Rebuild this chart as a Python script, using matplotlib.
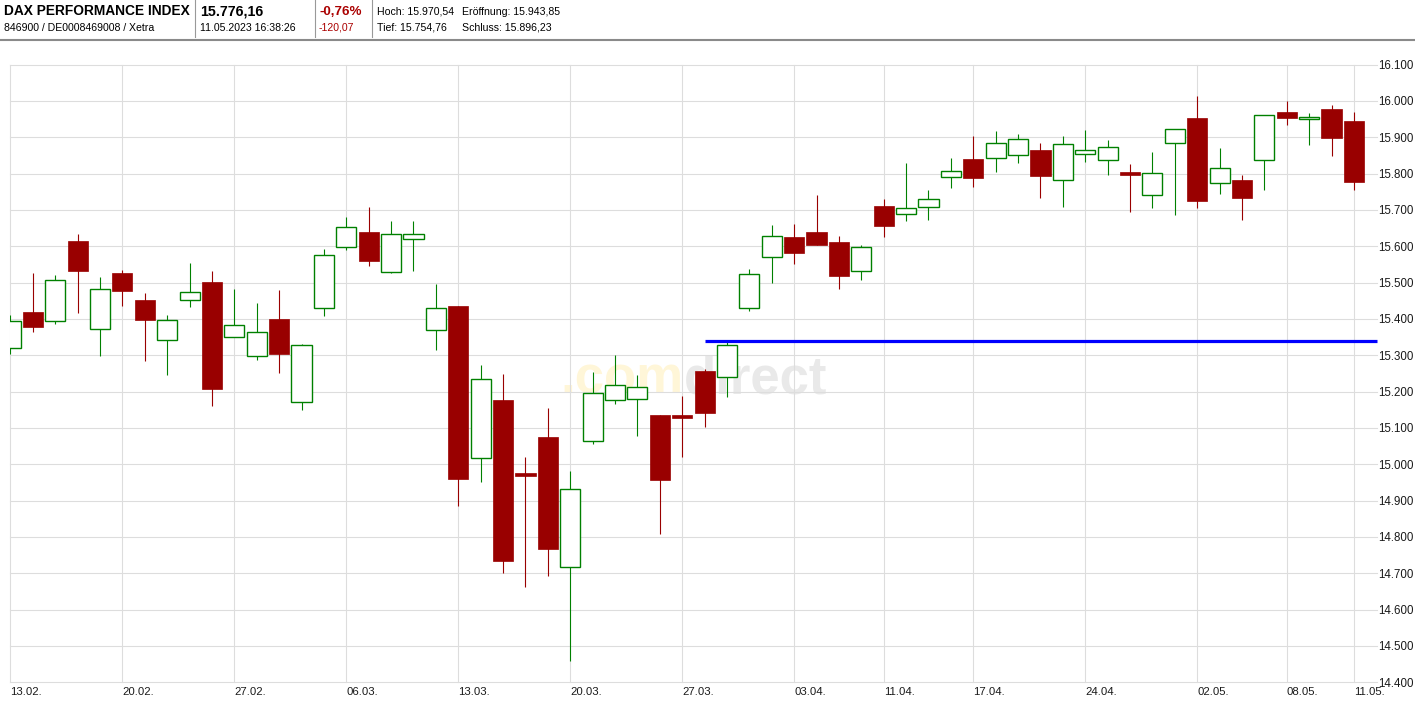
import matplotlib
matplotlib.use("Agg")
import matplotlib.pyplot as plt
from matplotlib.lines import Line2D

# DAX daily candles, 13.02.2023 - 11.05.2023
dates = ['13.02', '14.02', '15.02', '16.02', '17.02',
         '20.02', '21.02', '22.02', '23.02', '24.02',
         '27.02', '28.02', '01.03', '02.03', '03.03',
         '06.03', '07.03', '08.03', '09.03', '10.03',
         '13.03', '14.03', '15.03', '16.03', '17.03',
         '20.03', '21.03', '22.03', '23.03', '24.03',
         '27.03', '28.03', '29.03', '30.03', '31.03',
         '03.04', '04.04', '05.04', '06.04',
         '11.04', '12.04', '13.04', '14.04',
         '17.04', '18.04', '19.04', '20.04', '21.04',
         '24.04', '25.04', '26.04', '27.04', '28.04',
         '02.05', '03.05', '04.05', '05.05',
         '08.05', '09.05', '10.05', '11.05']
opens = [15321, 15418, 15393, 15614, 15371,
         15526, 15451, 15343, 15453, 15501,
         15351, 15299, 15399, 15170, 15431,
         15598, 15640, 15529, 15620, 15369,
         15436, 15016, 15177, 14976, 15075,
         14716, 15063, 15176, 15179, 15135,
         15136, 15257, 15241, 15429, 15569,
         15626, 15640, 15612, 15531,
         15712, 15688, 15707, 15790,
         15841, 15843, 15851, 15866, 15783,
         15854, 15837, 15804, 15740, 15884,
         15952, 15773, 15782, 15837,
         15969, 15950, 15977, 15943.85]
highs = [15410, 15526, 15520, 15633, 15515,
         15534, 15471, 15410, 15553, 15531,
         15482, 15443, 15479, 15330, 15592,
         15679, 15709, 15668, 15668, 15497,
         15436, 15272, 15247, 15020, 15155,
         14981, 15254, 15301, 15246, 15135,
         15188, 15263, 15336, 15538, 15659,
         15662, 15740, 15629, 15604,
         15729, 15830, 15755, 15844,
         15904, 15918, 15910, 15885, 15902,
         15921, 15893, 15827, 15860, 15923,
         16014, 15871, 15795, 15962,
         16000, 15966, 15988, 15970.54]
lows = [15304, 15364, 15386, 15417, 15298,
        15435, 15284, 15246, 15433, 15161,
        15349, 15287, 15251, 15150, 15408,
        15589, 15545, 15525, 15533, 15315,
        14885, 14952, 14701, 14663, 14693,
        14459, 15056, 15167, 15079, 14809,
        15021, 15103, 15184, 15422, 15500,
        15552, 15602, 15483, 15508,
        15624, 15668, 15673, 15759,
        15764, 15803, 15828, 15734, 15707,
        15831, 15795, 15693, 15706, 15686,
        15706, 15744, 15673, 15756,
        15933, 15878, 15847, 15754.76]
closes = [15395, 15378, 15506, 15532, 15481,
          15477, 15397, 15398, 15475, 15207,
          15382, 15365, 15304, 15327, 15577,
          15653, 15558, 15634, 15634, 15430,
          14959, 15234, 14734, 14967, 14768,
          14933, 15195, 15217, 15212, 14957,
          15128, 15142, 15329, 15523, 15628,
          15580, 15602, 15519, 15598,
          15655, 15705, 15730, 15807,
          15789, 15884, 15895, 15794, 15881,
          15865, 15873, 15795, 15801, 15923,
          15725, 15815, 15733, 15962,
          15953, 15956, 15897, 15776.16]

week_labels = ['13.02', '20.02', '27.02', '06.03', '13.03', '20.03', '27.03',
               '03.04', '11.04', '17.04', '24.04', '02.05', '08.05', '11.05']
y_ticks = list(range(14400, 16101, 100))

line_level = 15340      # blue horizontal line
line_start = '28.03'

UP = '#008000'
DOWN = '#990000'
GRID = '#dddddd'
FONT = ['Liberation Sans', 'DejaVu Sans']

W, H = 1415, 701
fig = plt.figure(figsize=(W / 100, H / 100), dpi=100)
fig.patch.set_facecolor('white')


def fx(x):
    return x / W


def fy(y):
    return 1 - y / H


ax = fig.add_axes([fx(10), fy(682.3), (1377 - 10) / W, (682.3 - 64.5) / H])
ax.set_facecolor('none')

# candles
x = list(range(len(dates)))
for i in x:
    o, h, l, c = opens[i], highs[i], lows[i], closes[i]
    col = UP if c >= o else DOWN
    ax.vlines(i, l, h, color=col, lw=0.8, zorder=2)
    if c >= o:
        ax.bar(i, c - o, bottom=o, width=0.9, facecolor='white',
               edgecolor=UP, linewidth=1.0, zorder=3)
    else:
        ax.bar(i, o - c, bottom=c, width=0.9, facecolor=DOWN,
               edgecolor=DOWN, linewidth=0.5, zorder=3)

x_right = 61.03
ax.hlines(line_level, dates.index(line_start), x_right, color='#0000ff',
          lw=2.3, zorder=4, clip_on=False)

ax.set_xlim(-0.02, x_right)
ax.set_ylim(14400, 16100)

# grid / ticks
xt = [dates.index(d) for d in week_labels]
ax.set_xticks(xt)
ax.set_xticklabels([d + '.' for d in week_labels], ha='left',
                   fontsize=8.2, family=FONT, color='#1a1a1a')
ax.set_yticks(y_ticks)
ax.set_yticklabels([f'{v:,}'.replace(',', '.') for v in y_ticks],
                   fontsize=8.3, family=FONT, color='#1a1a1a')
ax.yaxis.tick_right()
ax.tick_params(axis='y', length=0, pad=1)
ax.tick_params(axis='x', length=0, pad=3.5)
ax.grid(True, color=GRID, lw=0.8)
ax.set_axisbelow(True)
for gl in ax.get_xgridlines() + ax.get_ygridlines():
    gl.set_clip_on(False)
for s in ax.spines.values():
    s.set_visible(False)

# watermark
wm_x, wm_y = 684, 393
fig.text(fx(wm_x), fy(wm_y), '.com', ha='right', va='baseline', fontsize=38,
         fontweight='bold', family=FONT, color='#fff6d8', zorder=-1)
fig.text(fx(wm_x), fy(wm_y), 'direct', ha='left', va='baseline', fontsize=38,
         fontweight='bold', family=FONT, color='#e9e9e9', zorder=-1)

# header
def htext(xp, yp, s, size, bold=False, color='black'):
    fig.text(fx(xp), fy(yp), s, ha='left', va='baseline', fontsize=size,
             fontweight='bold' if bold else 'normal', family=FONT, color=color)


htext(4, 15, 'DAX PERFORMANCE INDEX', 9.9, bold=True)
htext(4, 31, '846900 / DE0008469008 / Xetra', 7.6)
htext(200, 15, '15.776,16', 10.3, bold=True)
htext(200, 31, '11.05.2023 16:38:26', 7.6)
htext(319, 15, '-0,76%', 9.6, bold=True, color='#aa0000')
htext(319, 31, '-120,07', 7.6, color='#aa0000')
htext(377, 15, 'Hoch: 15.970,54', 7.6)
htext(462, 15, 'Eröffnung: 15.943,85', 7.6)
htext(377, 31, 'Tief: 15.754,76', 7.6)
htext(462, 31, 'Schluss: 15.896,23', 7.6)

for sx in [195.5, 314.5, 372]:
    fig.add_artist(Line2D([fx(sx), fx(sx)], [fy(0), fy(37)], color='#999999',
                          lw=0.8, transform=fig.transFigure))
fig.add_artist(Line2D([0, 1], [fy(40.2), fy(40.2)], color='#8a8a8a', lw=1.5,
                      transform=fig.transFigure))

fig.savefig('out.png', dpi=100)
